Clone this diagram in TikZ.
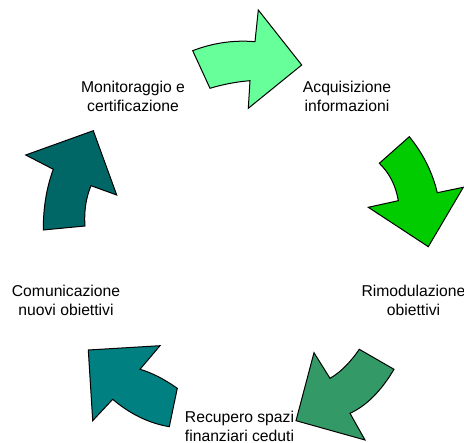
\documentclass[tikz,border=0pt]{standalone}
\usepackage{fontspec}
\setmainfont{Liberation Sans}
\definecolor{cA}{HTML}{66FF99}
\definecolor{cB}{HTML}{00CC00}
\definecolor{cC}{HTML}{339966}
\definecolor{cD}{HTML}{008080}
\definecolor{cE}{HTML}{006666}
\begin{document}
\begin{tikzpicture}[x=1pt,y=-1pt,
  arrowshape/.style={draw=black,line width=1pt,line join=miter},
  lbl/.style={align=center,inner sep=0pt,font=\fontsize{15.7}{19}\selectfont}]
\useasboundingbox (0,0) rectangle (464,443);
% arrow 1 (top)
\path[arrowshape,fill=cA] (192.7,50.7) .. controls (212.9,42.9) and (233.7,39.9) .. (255,41.7) -- (258.3,10) -- (301.7,65) -- (248.3,108.3) -- (250,80.7) .. controls (236.5,81.8) and (223.2,84.3) .. (210,88.3) -- cycle;
% arrow 2 (right)
\path[arrowshape,fill=cB] (379.3,163.3) -- (409.3,136.7) .. controls (423.1,153.6) and (432.4,172.2) .. (437.3,192.7) -- (463.3,187.3) -- (428.3,246.7) -- (368.3,207.3) -- (398.3,200.7) .. controls (395.8,185.6) and (389.5,173.1) .. cycle;
% arrow 3 (bottom right)
\path[arrowshape,fill=cC] (359.3,349.3) -- (394,369.3) .. controls (381.1,391.1) and (366.4,405.8) .. (350,413.3) -- (365,440) -- (296,420.7) -- (314,352.7) -- (330,378.3) .. controls (340.2,372.5) and (350,362.8) .. cycle;
% arrow 4 (bottom left)
\path[arrowshape,fill=cD] (88.3,350) -- (160,345.7) -- (140,369.3) .. controls (152,372.8) and (164.4,379.2) .. (177.3,388.3) -- (169.3,426.7) .. controls (149.1,423.3) and (130.2,414.2) .. (112.7,399.3) -- (92.7,420.7) -- cycle;
% arrow 5 (left)
\path[arrowshape,fill=cE] (93.3,130.7) -- (116.7,195) -- (91,185.7) .. controls (85.9,198) and (83.9,211.4) .. (85,226) -- (43.3,230) .. controls (43.2,207.9) and (46.5,187.7) .. (53.3,169.3) -- (25.7,155) -- cycle;
% labels
\node[lbl] (mon) at (133,96.5) {Monitoraggio e\\certificazione};
\node[lbl] (acq) at (347,96.5) {Acquisizione\\informazioni};
\node[lbl] (rim) at (413.5,300.5) {Rimodulazione\\obiettivi};
\node[lbl] (rec) at (239.5,426) {Recupero spazi\\finanziari ceduti};
\node[lbl] (com) at (66,300.5) {Comunicazione\\nuovi obiettivi};
\end{tikzpicture}
\end{document}
